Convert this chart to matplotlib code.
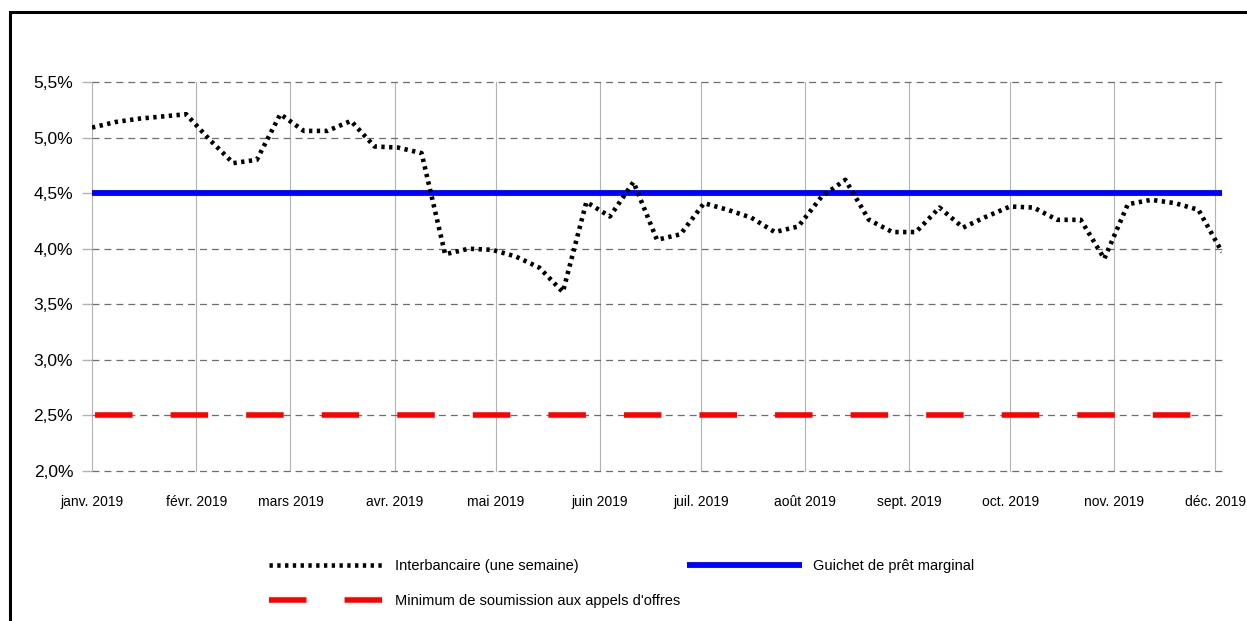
import numpy as np
import pandas as pd
import matplotlib
matplotlib.use("Agg")
import matplotlib.pyplot as plt
from matplotlib.patches import Rectangle
from matplotlib.lines import Line2D
from matplotlib.ticker import FuncFormatter

plt.rcParams['font.family'] = ['Liberation Sans', 'DejaVu Sans']
plt.rcParams['lines.scale_dashes'] = False   # dash lengths in points, not in linewidths

# Weekly one-week interbank rate (%)
interbank = [5.09, 5.14, 5.17, 5.19, 5.21, 4.98, 4.77, 4.80, 5.21, 5.06,
             5.06, 5.15, 4.92, 4.91, 4.86, 3.95, 4.00, 3.99, 3.93, 3.83,
             3.61, 4.42, 4.29, 4.60, 4.08, 4.13, 4.41, 4.35, 4.28, 4.15,
             4.20, 4.47, 4.62, 4.26, 4.15, 4.15, 4.37, 4.19, 4.29, 4.38,
             4.37, 4.26, 4.26, 3.91, 4.40, 4.44, 4.41, 4.35, 3.97]
dates = pd.date_range("2019-01-01", periods=len(interbank), freq="7D")

# Policy rates (%), flat over the period
marginal_rate = [4.5, 4.5]
tender_rate = [2.5, 2.5]

labels = ["Interbancaire (une semaine)",
          "Minimum de soumission aux appels d'offres",
          "Guichet de prêt marginal"]

month_ticks = pd.date_range("2019-01-01", "2019-12-01", freq="MS")
month_labels = ["janv. 2019", "févr. 2019", "mars 2019", "avr. 2019", "mai 2019",
                "juin 2019", "juil. 2019", "août 2019", "sept. 2019", "oct. 2019",
                "nov. 2019", "déc. 2019"]
y_ticks = [2.0, 2.5, 3.0, 3.5, 4.0, 4.5, 5.0, 5.5]

W, H = 1247, 621
fig = plt.figure(figsize=(W / 100, H / 100), dpi=100)
ax = fig.add_axes([92 / W, 1 - 471 / H, (1222 - 92) / W, (471 - 82) / H])

# outer frame (only top and left edges visible)
fig.patches.append(Rectangle((9.5 / W, -0.2), 1.2, 1.2 - 11.5 / H,
                             transform=fig.transFigure, fill=False,
                             edgecolor='black', linewidth=2.2))

dot_style = dict(color='black', linewidth=3.3, dashes=(2.4, 3.2), dash_capstyle='butt')
red_style = dict(color='#ff0000', linewidth=4.0)
blue_style = dict(color='#0000ff', linewidth=4.2, solid_capstyle='butt')

ends = [dates[0], dates[-1]]
ax.plot(dates, interbank, zorder=4, **dot_style)
ax.plot(ends, tender_rate, zorder=3, linestyle=(52.2, (27.0, 27.4)), **red_style)
ax.plot(ends, marginal_rate, zorder=3, **blue_style)

ax.set_xlim(dates[0], dates[-1])
ax.set_ylim(2.0, 5.5)

ax.set_yticks(y_ticks)
ax.yaxis.set_major_formatter(FuncFormatter(lambda v, p: f"{v:.1f}%".replace('.', ',')))
ax.set_xticks(month_ticks)
ax.set_xticklabels(month_labels)

ax.tick_params(axis='y', length=7, width=1, color='#b3b3b3', pad=6.5,
               labelsize=12.5, labelcolor='black')
ax.tick_params(axis='x', length=0, pad=17, labelsize=10, labelcolor='black')

ax.grid(axis='y', color='#6e6e6e', linewidth=0.9, dashes=(5.0, 3.6))
ax.grid(axis='x', color='#b3b3b3', linewidth=0.8, linestyle='-')
ax.set_axisbelow(True)
for gl in ax.get_ygridlines() + ax.get_xgridlines():
    gl.set_clip_on(False)
for s in ax.spines.values():
    s.set_visible(False)

handles = [Line2D([], [], **dot_style),
           Line2D([], [], linestyle=(0, (27.0, 27.4)), **red_style),
           Line2D([], [], **blue_style)]
fig.legend(handles, labels, ncol=2, loc='upper left',
           bbox_to_anchor=(269 / W, 1 - 559 / H), frameon=False,
           borderpad=0, borderaxespad=0, fontsize=10.5,
           handlelength=7.9, handletextpad=0.75, columnspacing=0.45,
           labelspacing=1.45)

fig.savefig("out.png", dpi=100)
